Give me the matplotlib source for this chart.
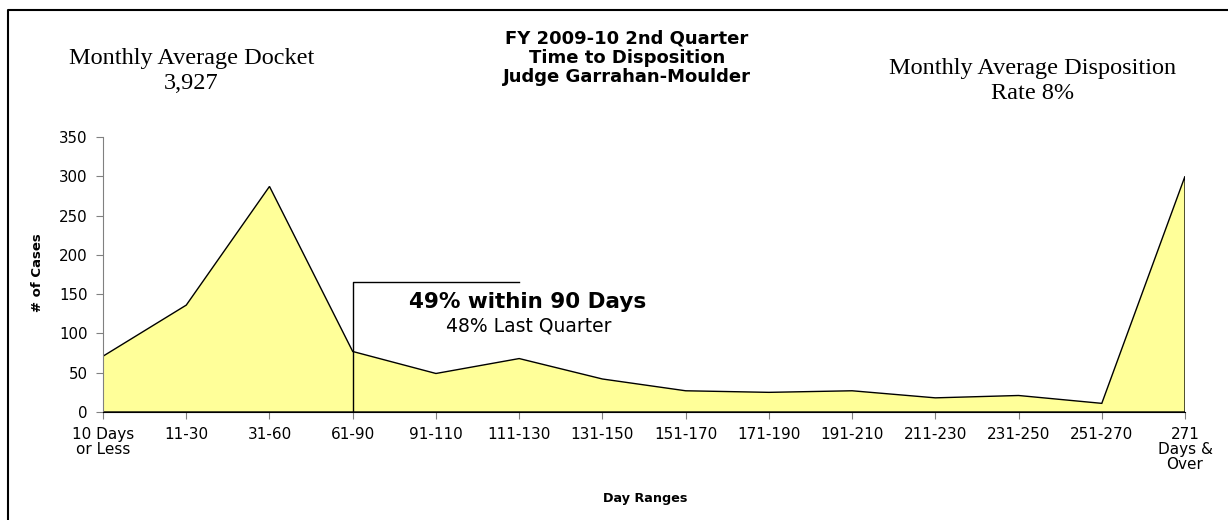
import numpy as np
import matplotlib
matplotlib.use('Agg')
import matplotlib.pyplot as plt
from matplotlib.lines import Line2D

ranges = ['10 Days\nor Less', '11-30', '31-60', '61-90', '91-110', '111-130',
          '131-150', '151-170', '171-190', '191-210', '211-230', '231-250',
          '251-270', '271\nDays &\nOver']
cases = [71, 136, 287, 77, 49, 68, 42, 27, 25, 27, 18, 21, 11, 300]
yticks = [0, 50, 100, 150, 200, 250, 300, 350]

sans = ['DejaVu Sans']
serif = ['Liberation Serif', 'DejaVu Serif']

fig = plt.figure(figsize=(12.28, 5.2), dpi=100)
ax = fig.add_axes([0.0839, 0.2077, 0.8811, 0.529])

x = np.arange(len(cases))
# area with black outline, closed down to the axis
ax.fill(np.r_[x, x[-1], x[0]], np.r_[cases, 0, 0],
        facecolor='#FFFF99', edgecolor='black', linewidth=1)

# 90 day bracket
ax.plot([3, 3, 5], [0, 165, 165], color='black', linewidth=1)
ax.text(5.1, 140.5, '49% within 90 Days', ha='center', va='center',
        fontsize=15.5, fontweight='bold', family=sans)
ax.text(5.11, 110, '48% Last Quarter', ha='center', va='center',
        fontsize=13.5, family=sans)

ax.set_xlim(0, len(cases) - 1)
ax.set_ylim(0, 350)
ax.set_xticks(x)
ax.set_xticklabels(ranges, family=sans, fontsize=11, linespacing=1.0)
ax.set_yticks(yticks)
ax.set_yticklabels([str(v) for v in yticks], family=sans, fontsize=10.8)
ax.tick_params(direction='out', length=5, width=0.8, color='#808080')
ax.tick_params(axis='x', pad=6)
ax.tick_params(axis='y', pad=6)
ax.spines['top'].set_visible(False)
ax.spines['right'].set_visible(False)
ax.spines['left'].set_color('#808080')
ax.spines['bottom'].set_color('black')
ax.set_ylabel('# of Cases', family=sans, fontsize=9.5, fontweight='bold', va='center')
ax.yaxis.set_label_coords(-0.061, 0.505)
ax.set_xlabel('Day Ranges', family=sans, fontsize=9.2, fontweight='bold', va='center')
ax.xaxis.set_label_coords(0.501, -0.313)

fig.text(0.5106, 0.944, 'FY 2009-10 2nd Quarter\nTime to Disposition\nJudge Garrahan-Moulder',
         ha='center', va='top', fontsize=13, fontweight='bold', family=sans,
         linespacing=1.12)
fig.text(0.156, 0.907, 'Monthly Average Docket\n3,927', ha='center', va='top',
         fontsize=17.5, family=serif, linespacing=1.22)
fig.text(0.8408, 0.888, 'Monthly Average Disposition\nRate 8%', ha='center', va='top',
         fontsize=17.5, family=serif, linespacing=1.22)

# outer frame, only left and top edges fall inside the picture
fig.lines.append(Line2D([0.0065, 0.0065, 1.0], [0.0, 0.981, 0.981],
                        transform=fig.transFigure, color='black', linewidth=1.5))

fig.savefig('out.png', dpi=100)
